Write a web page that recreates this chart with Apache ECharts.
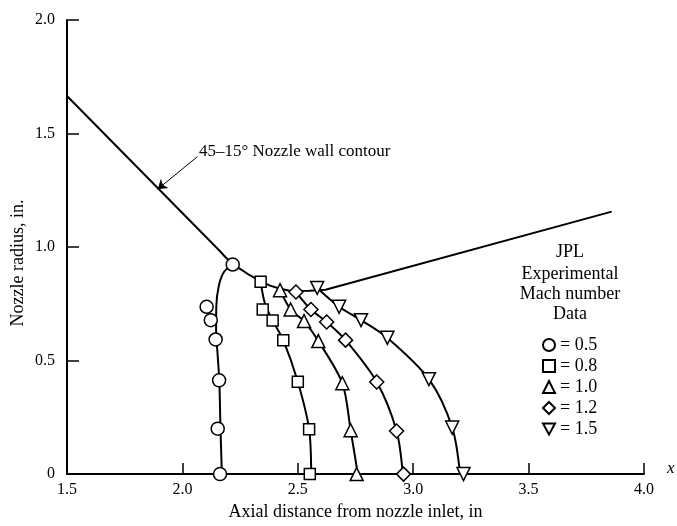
<!DOCTYPE html>
<html>
<head>
<meta charset="utf-8">
<script src="https://cdn.jsdelivr.net/npm/echarts@6/dist/echarts.min.js"></script>
<style>
  html, body { margin: 0; padding: 0; background: #fff; }
  #chart { width: 677px; height: 526px; }
</style>
</head>
<body>
<div id="chart"></div>
<script>
// nozzle wall, [axial distance, radius]
const wallContour = [
  [1.5, 1.665], [2.16, 0.985], [2.19, 0.952], [2.218, 0.927], [2.25, 0.904],
  [2.29, 0.877], [2.339, 0.849], [2.38, 0.83], [2.423, 0.816], [2.46, 0.809],
  [2.49, 0.806], [2.55, 0.807], [2.62, 0.812], [3.86, 1.156]
];

// experimental points per Mach number
const machLabels = ['0.5', '0.8', '1.0', '1.2', '1.5'];
const pointsM05 = [[2.218, 0.923], [2.105, 0.737], [2.123, 0.678], [2.144, 0.593], [2.159, 0.413], [2.153, 0.2], [2.163, 0.0]];
const pointsM08 = [[2.339, 0.847], [2.348, 0.725], [2.391, 0.677], [2.437, 0.59], [2.5, 0.407], [2.549, 0.198], [2.552, 0.0]];
const pointsM10 = [[2.423, 0.81], [2.469, 0.725], [2.527, 0.674], [2.589, 0.586], [2.693, 0.4], [2.729, 0.193], [2.755, 0.0]];
const pointsM12 = [[2.492, 0.802], [2.557, 0.725], [2.625, 0.67], [2.707, 0.59], [2.842, 0.406], [2.928, 0.19], [2.958, 0.0]];
const pointsM15 = [[2.584, 0.82], [2.679, 0.737], [2.774, 0.678], [2.888, 0.6], [3.068, 0.418], [3.169, 0.205], [3.218, 0.0]];

// faired curves through the data
const curveM05 = [[2.171, 0.0], [2.165, 0.2], [2.16, 0.41], [2.153, 0.52], [2.146, 0.64], [2.147, 0.74], [2.158, 0.83], [2.18, 0.89], [2.218, 0.923]];
const curveM08 = [[2.558, 0.0], [2.549, 0.198], [2.5, 0.407], [2.437, 0.59], [2.391, 0.677], [2.358, 0.75], [2.339, 0.847]];
const curveM10 = [[2.76, 0.0], [2.729, 0.193], [2.693, 0.4], [2.589, 0.586], [2.527, 0.674], [2.469, 0.725], [2.423, 0.81]];
const curveM12 = [[2.955, 0.0], [2.928, 0.19], [2.842, 0.406], [2.707, 0.59], [2.625, 0.67], [2.557, 0.725], [2.492, 0.802]];
const curveM15 = [[3.203, 0.0], [3.169, 0.205], [3.068, 0.418], [2.888, 0.6], [2.774, 0.678], [2.679, 0.737], [2.584, 0.82]];

const xTickLabels = ['1.5', '2.0', '2.5', '3.0', '3.5', '4.0'];
const yTickLabels = ['0', '0.5', '1.0', '1.5', '2.0'];

const serif = 'Liberation Serif';
const downTriangle = 'path://M0,0 L10,0 L5,9 Z';
const myChart = echarts.init(document.getElementById('chart'));

function curve(data) {
  return {
    type: 'line',
    data: data,
    smooth: 0.3,
    showSymbol: false,
    silent: true,
    lineStyle: { color: '#000', width: 2 },
    z: 2,
  };
}

function points(name, data, symbol, size) {
  return {
    name: name,
    type: 'scatter',
    data: data,
    symbol: symbol,
    symbolSize: size,
    itemStyle: { color: '#fff', borderColor: '#000', borderWidth: 1.5, opacity: 1 },
    z: 5,
  };
}

function label(text, x, y) {
  return {
    type: 'text', x: x, y: y,
    style: { text: text, font: '18px "Liberation Serif"', fill: '#000', textAlign: 'center', textVerticalAlign: 'middle' },
  };
}

const option = {
  animation: false,
  backgroundColor: '#fff',
  grid: { left: 67, right: 33, top: 20, bottom: 51 },
  xAxis: {
    type: 'value',
    min: 1.5,
    max: 4.0,
    interval: 0.5,
    name: 'Axial distance from nozzle inlet, in',
    nameLocation: 'middle',
    nameGap: 27,
    nameTextStyle: { fontFamily: serif, fontSize: 18, color: '#000' },
    axisLine: { lineStyle: { color: '#000', width: 2 } },
    axisTick: { inside: true, length: 11, lineStyle: { color: '#000', width: 1.5 } },
    axisLabel: {
      margin: 8,
      fontFamily: serif,
      fontSize: 16,
      color: '#000',
      formatter: (v) => xTickLabels[Math.round((v - 1.5) / 0.5)],
    },
    splitLine: { show: false },
  },
  yAxis: {
    type: 'value',
    min: 0,
    max: 2.0,
    interval: 0.5,
    axisLine: { show: true, lineStyle: { color: '#000', width: 2 } },
    axisTick: { show: true, inside: true, length: 12, lineStyle: { color: '#000', width: 1.5 } },
    axisLabel: {
      margin: 12,
      fontFamily: serif,
      fontSize: 16,
      color: '#000',
      formatter: (v) => yTickLabels[Math.round(v / 0.5)],
    },
    splitLine: { show: false },
  },
  legend: {
    data: [
      { name: '0.5' },
      { name: '0.8' },
      { name: '1.0' },
      { name: '1.2' },
      { name: '1.5', icon: downTriangle },
    ],
    orient: 'vertical',
    left: 537,
    top: 331,
    itemWidth: 12,
    itemHeight: 12,
    itemGap: 3,
    formatter: '= {name}',
    textStyle: { fontFamily: serif, fontSize: 18, color: '#000' },
  },
  graphic: [
    { type: 'text', left: 199, top: 143, style: { text: '45\u201315\u00b0 Nozzle wall contour', font: '17px "Liberation Serif"', fill: '#000' } },
    label('JPL', 570, 252),
    label('Experimental', 570, 274),
    label('Mach number', 570, 294),
    label('Data', 570, 314),
    {
      type: 'text', x: 18, y: 263, rotation: Math.PI / 2,
      style: { text: 'Nozzle radius, in.', font: '18px "Liberation Serif"', fill: '#000', textAlign: 'center', textVerticalAlign: 'middle' },
    },
    { type: 'text', left: 667, top: 460, style: { text: 'x', font: 'italic 17px "Liberation Serif"', fill: '#000' } },
  ],
  series: [
    {
      type: 'line',
      data: wallContour,
      showSymbol: false,
      silent: true,
      lineStyle: { color: '#000', width: 2 },
      z: 2,
      markLine: {
        silent: true,
        symbol: ['none', 'arrow'],
        symbolSize: 9,
        label: { show: false },
        lineStyle: { color: '#000', width: 1, type: 'solid' },
        data: [[{ coord: [2.065, 1.398] }, { coord: [1.893, 1.255] }]],
      },
    },
    curve(curveM05),
    curve(curveM08),
    curve(curveM10),
    curve(curveM12),
    curve(curveM15),
    points('0.5', pointsM05, 'circle', 13),
    points('0.8', pointsM08, 'rect', 11),
    points('1.0', pointsM10, 'triangle', 13),
    points('1.2', pointsM12, 'diamond', 14),
    points('1.5', pointsM15, downTriangle, 13),
  ],
};

myChart.setOption(option);
</script>
</body>
</html>
